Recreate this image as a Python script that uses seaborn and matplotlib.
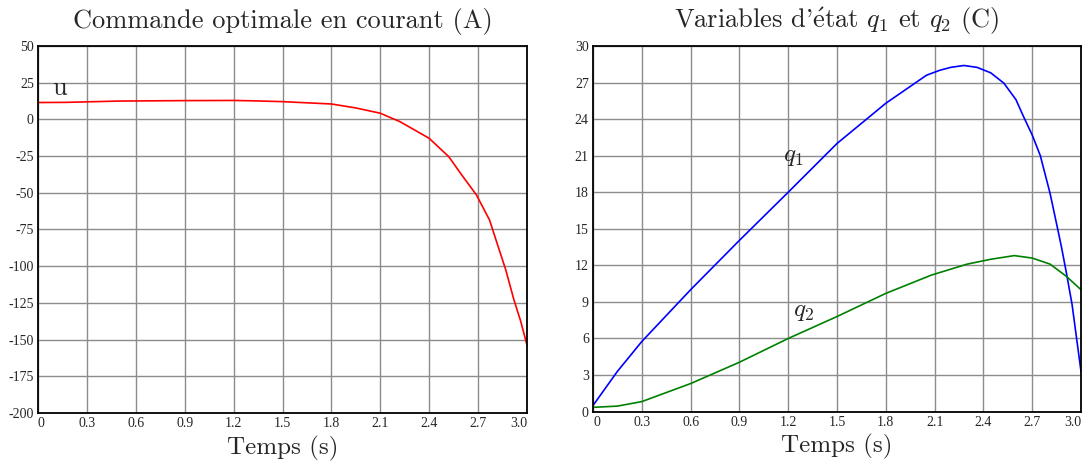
import matplotlib
matplotlib.use("Agg")
import matplotlib.pyplot as plt
import seaborn as sns
import pandas as pd

# ---- data ----
t_u = [0.0, 0.17, 0.5, 0.9, 1.2, 1.3, 1.5, 1.8, 1.95, 2.1, 2.22, 2.4, 2.52,
       2.60, 2.69, 2.77, 2.83, 2.87, 2.92, 2.96, 3.0]
u = [11.5, 11.6, 12.5, 12.8, 12.9, 12.7, 12.1, 10.5, 7.8, 4.2, -1.5, -12.9, -25.4,
     -37.9, -51.5, -68.5, -89.0, -102.6, -123.0, -137.0, -153.7]

t_q1 = [0.0, 0.15, 0.3, 0.6, 0.9, 1.2, 1.5, 1.8, 2.05, 2.13, 2.2, 2.28, 2.36,
        2.445, 2.526, 2.60, 2.647, 2.70, 2.75, 2.81, 2.85, 2.88, 2.91, 2.945, 2.975, 3.0]
q1 = [0.5, 3.3, 5.75, 10.0, 14.05, 18.0, 22.0, 25.3, 27.6, 28.0, 28.25, 28.4, 28.25,
      27.8, 26.95, 25.6, 24.2, 22.7, 21.0, 17.9, 15.4, 13.5, 11.4, 8.8, 5.8, 3.3]

t_q2 = [0.0, 0.15, 0.3, 0.6, 0.9, 1.2, 1.5, 1.8, 2.08, 2.3, 2.445, 2.59, 2.70,
        2.81, 2.91, 3.0]
q2 = [0.35, 0.45, 0.82, 2.3, 4.05, 6.0, 7.8, 9.7, 11.2, 12.1, 12.5, 12.8, 12.6,
      12.1, 11.1, 10.0]

x_ticks = [0, 0.3, 0.6, 0.9, 1.2, 1.5, 1.8, 2.1, 2.4, 2.7, 3.0]
x_labels = ["0", "0.3", "0.6", "0.9", "1.2", "1.5", "1.8", "2.1", "2.4", "2.7", "3.0"]
u_ticks = [-200, -175, -150, -125, -100, -75, -50, -25, 0, 25, 50]
q_ticks = [0, 3, 6, 9, 12, 15, 18, 21, 24, 27, 30]

title_left = "Commande optimale en courant (A)"
title_right = r"Variables d'$\mathrm{\acute{e}}$tat $q_1$ et $q_2$ (C)"
xlabel = "Temps (s)"

# ---- style ----
sns.set_theme(style="white")
plt.rcParams["font.family"] = ["Liberation Serif", "DejaVu Serif"]
plt.rcParams["mathtext.fontset"] = "cm"
big_font = ["cmr10", "Liberation Serif", "DejaVu Serif"]

fig = plt.figure(figsize=(10.82, 4.65), dpi=100)
axL = fig.add_axes([38/1082, 1-413/465, (527-38)/1082, (413-46)/465])
axR = fig.add_axes([593/1082, 1-411.6/465, (1081-593)/1082, (411.6-46)/465])

dfu = pd.DataFrame({"t": t_u, "u": u})
dfq1 = pd.DataFrame({"t": t_q1, "q": q1})
dfq2 = pd.DataFrame({"t": t_q2, "q": q2})

sns.lineplot(data=dfu, x="t", y="u", ax=axL, color="#ff0000", lw=1.2)
sns.lineplot(data=dfq1, x="t", y="q", ax=axR, color="#0000ff", lw=1.2)
sns.lineplot(data=dfq2, x="t", y="q", ax=axR, color="#008000", lw=1.2)

for ax, yt, ylim, title in [(axL, u_ticks, (-200, 50), title_left),
                            (axR, q_ticks, (0, 30), title_right)]:
    ax.set_xlim(0, 3.0)
    ax.set_ylim(*ylim)
    ax.set_xticks(x_ticks)
    ax.set_xticklabels(x_labels, fontsize=10)
    ax.set_yticks(yt)
    ax.set_yticklabels([str(v) for v in yt], fontsize=10)
    ax.tick_params(axis="both", length=0, pad=3)
    ax.grid(True, color="#8c8c8c", lw=1.0)
    for s in ax.spines.values():
        s.set_color("black")
        s.set_linewidth(1.3)
        s.set_visible(True)
    ax.set_xlabel(xlabel, fontsize=18, family=big_font, labelpad=4)
    ax.set_ylabel("")
    ax.set_title(title, fontsize=19, family=big_font, pad=13)
    labels = ax.get_xticklabels()
    labels[0].set_horizontalalignment("left")
    labels[-1].set_horizontalalignment("right")

axL.text(0.085, 16.5, "u", fontsize=19, family=big_font)
axR.text(1.17, 20.55, "$q_1$", fontsize=18)
axR.text(1.23, 7.85, "$q_2$", fontsize=18)

fig.savefig("out.png", dpi=100)
